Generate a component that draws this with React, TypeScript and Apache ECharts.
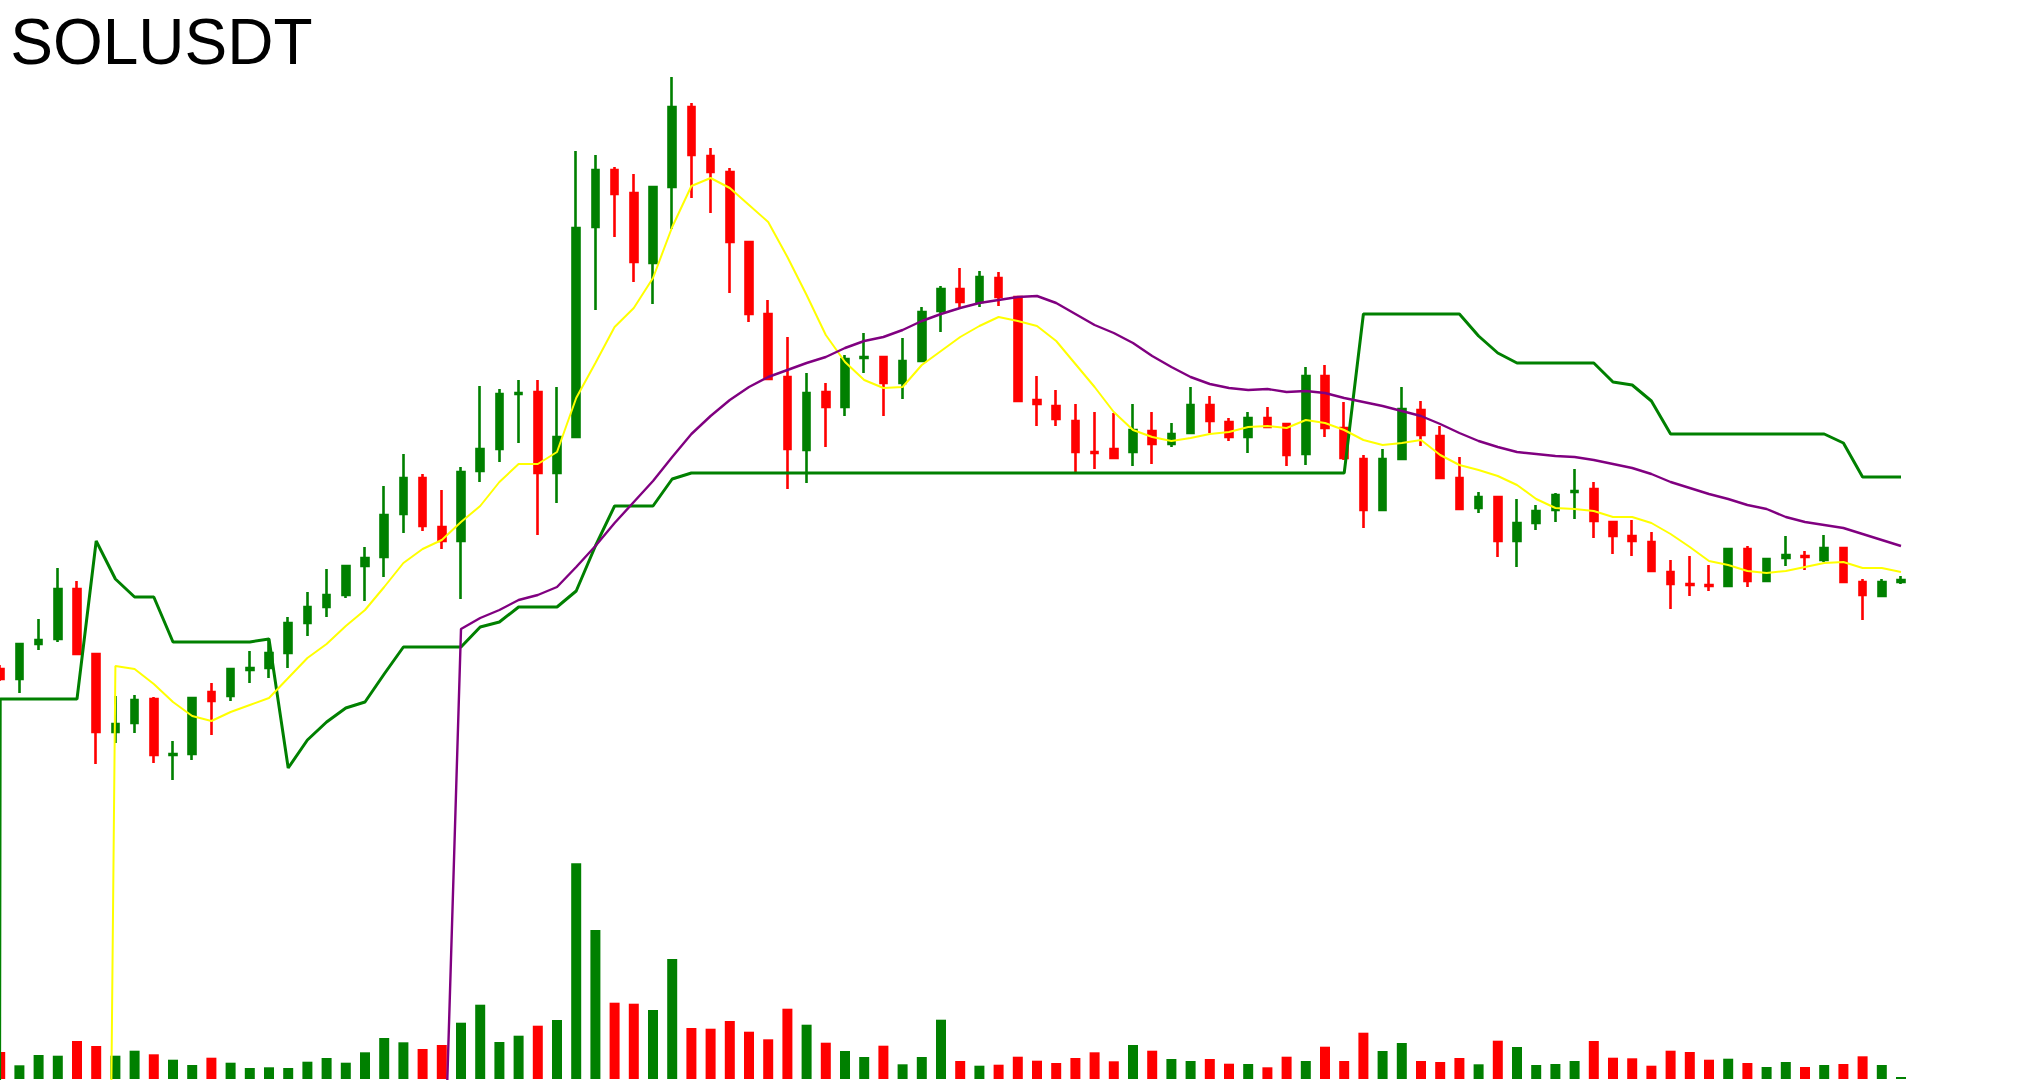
import React, { useEffect, useRef } from "react";
import * as echarts from "echarts";

// [open, close, low, high]
const CANDLES: number[][] = [
  [19.84, 19.74, 19.72, 19.88],
  [19.74, 20.09, 19.60, 20.09],
  [20.09, 20.13, 20.03, 20.34],
  [20.14, 20.64, 20.11, 20.85],
  [20.64, 19.99, 19.99, 20.72],
  [19.99, 19.21, 18.89, 19.99],
  [19.21, 19.29, 19.10, 19.57],
  [19.30, 19.53, 19.20, 19.58],
  [19.54, 18.98, 18.90, 19.56],
  [18.98, 18.99, 18.73, 19.12],
  [18.99, 19.55, 18.93, 19.56],
  [19.61, 19.52, 19.18, 19.70],
  [19.57, 19.84, 19.52, 19.84],
  [19.83, 19.85, 19.70, 20.02],
  [19.85, 20.00, 19.75, 20.15],
  [20.00, 20.30, 19.85, 20.36],
  [20.30, 20.46, 20.17, 20.61],
  [20.46, 20.58, 20.36, 20.84],
  [20.58, 20.87, 20.55, 20.87],
  [20.87, 20.95, 20.52, 21.06],
  [20.96, 21.38, 20.76, 21.67],
  [21.39, 21.75, 21.20, 21.99],
  [21.75, 21.27, 21.22, 21.79],
  [21.26, 21.12, 21.04, 21.63],
  [21.12, 21.81, 20.54, 21.86],
  [21.82, 22.04, 21.71, 22.67],
  [22.04, 22.59, 21.91, 22.64],
  [22.59, 22.60, 22.10, 22.73],
  [22.61, 21.80, 21.18, 22.73],
  [21.80, 22.16, 21.50, 22.66],
  [22.16, 24.25, 22.16, 25.02],
  [24.26, 24.83, 23.43, 24.98],
  [24.83, 24.59, 24.16, 24.86],
  [24.60, 23.91, 23.71, 24.79],
  [23.90, 24.66, 23.49, 24.66],
  [24.66, 25.46, 24.24, 25.76],
  [25.46, 24.98, 24.55, 25.50],
  [24.97, 24.81, 24.40, 25.05],
  [24.81, 24.11, 23.60, 24.85],
  [24.11, 23.39, 23.31, 24.11],
  [23.39, 22.74, 22.74, 23.53],
  [22.76, 22.04, 21.64, 23.16],
  [22.03, 22.60, 21.70, 22.80],
  [22.61, 22.46, 22.06, 22.70],
  [22.46, 22.94, 22.37, 22.98],
  [22.95, 22.96, 22.80, 23.20],
  [22.96, 22.70, 22.37, 22.96],
  [22.70, 22.92, 22.54, 23.15],
  [22.92, 23.41, 22.91, 23.46],
  [23.42, 23.64, 23.21, 23.67],
  [23.64, 23.51, 23.44, 23.85],
  [23.51, 23.76, 23.46, 23.82],
  [23.75, 23.56, 23.47, 23.81],
  [23.56, 22.52, 22.52, 23.56],
  [22.53, 22.49, 22.27, 22.77],
  [22.47, 22.34, 22.27, 22.63],
  [22.32, 22.01, 21.79, 22.49],
  [22.01, 22.00, 21.84, 22.41],
  [22.04, 21.95, 21.95, 22.40],
  [22.01, 22.23, 21.87, 22.49],
  [22.22, 22.09, 21.89, 22.41],
  [22.09, 22.19, 22.06, 22.30],
  [22.20, 22.48, 22.19, 22.66],
  [22.48, 22.32, 22.20, 22.57],
  [22.31, 22.16, 22.12, 22.35],
  [22.16, 22.35, 22.00, 22.41],
  [22.35, 22.26, 22.25, 22.46],
  [22.29, 21.98, 21.87, 22.30],
  [21.99, 22.77, 21.88, 22.86],
  [22.77, 22.25, 22.16, 22.88],
  [22.25, 21.95, 21.93, 22.51],
  [21.94, 21.43, 21.25, 21.98],
  [21.43, 21.94, 21.43, 22.04],
  [21.94, 22.44, 21.94, 22.66],
  [22.43, 22.18, 22.07, 22.52],
  [22.17, 21.75, 21.75, 22.27],
  [21.75, 21.44, 21.43, 21.96],
  [21.45, 21.56, 21.40, 21.61],
  [21.56, 21.12, 20.96, 21.56],
  [21.12, 21.30, 20.86, 21.54],
  [21.30, 21.42, 21.23, 21.48],
  [21.43, 21.58, 21.31, 21.60],
  [21.61, 21.62, 21.34, 21.84],
  [21.64, 21.32, 21.15, 21.71],
  [21.31, 21.17, 20.99, 21.31],
  [21.17, 21.12, 20.97, 21.33],
  [21.11, 20.82, 20.82, 21.21],
  [20.81, 20.69, 20.44, 20.93],
  [20.69, 20.68, 20.57, 20.97],
  [20.68, 20.67, 20.62, 20.88],
  [20.67, 21.04, 20.66, 21.05],
  [21.04, 20.72, 20.66, 21.07],
  [20.72, 20.94, 20.71, 20.94],
  [20.95, 20.98, 20.87, 21.17],
  [20.97, 20.96, 20.83, 21.02],
  [20.93, 21.05, 20.91, 21.18],
  [21.05, 20.71, 20.70, 21.05],
  [20.71, 20.58, 20.33, 20.74],
  [20.57, 20.71, 20.56, 20.74],
  [20.71, 20.73, 20.69, 20.77],
];

const VOLUME: number[] = [
  27, 13.7, 24, 23.3, 38, 33, 23.3, 28.3, 24.7, 19.3,
  14, 21.3, 16.3, 11, 11.7, 11, 17.3, 21, 16.3, 26.7,
  41, 36.7, 30, 34, 56.3, 74.3, 37, 43.3, 53.3, 59,
  215.7, 149, 76.3, 75.3, 69, 120, 51, 50.3, 58, 47.3,
  39.7, 70.3, 54.3, 36.3, 28, 22, 33.3, 14.7, 22, 59.3,
  18, 13.3, 14.3, 22.3, 18.3, 16, 21, 26.7, 17.7, 34,
  28.3, 20, 18, 20, 15.3, 15, 11.7, 22.3, 18, 32.3,
  18, 46.3, 28, 36, 18, 17, 21, 14.7, 38.3, 32,
  14, 15, 18, 38, 21.3, 20.7, 13.3, 28.3, 27, 19.3,
  20.3, 16, 12, 17, 12, 14, 15, 22.7, 14, 2,
];

// green trailing line: value before the first candle (far below the chart), then one value per candle
const GREEN_LEAD = -100;
const GREEN_LINE: number[] = [
  19.54, 19.54, 19.54, 19.54, 19.54, 21.12, 20.74, 20.56, 20.56, 20.11,
  20.11, 20.11, 20.11, 20.11, 20.14, 18.85, 19.13, 19.31, 19.45, 19.51,
  19.79, 20.06, 20.06, 20.06, 20.06, 20.26, 20.31, 20.46, 20.46, 20.46,
  20.62, 21.07, 21.47, 21.47, 21.47, 21.74, 21.80, 21.80, 21.80, 21.80,
  21.80, 21.80, 21.80, 21.80, 21.80, 21.80, 21.80, 21.80, 21.80, 21.80,
  21.80, 21.80, 21.80, 21.80, 21.80, 21.80, 21.80, 21.80, 21.80, 21.80,
  21.80, 21.80, 21.80, 21.80, 21.80, 21.80, 21.80, 21.80, 21.80, 21.80,
  21.80, 23.39, 23.39, 23.39, 23.39, 23.39, 23.39, 23.17, 23.00, 22.90,
  22.90, 22.90, 22.90, 22.90, 22.71, 22.68, 22.52, 22.19, 22.19, 22.19,
  22.19, 22.19, 22.19, 22.19, 22.19, 22.19, 22.10, 21.76, 21.76, 21.76,
];

// yellow average: starts at candle 5
const YELLOW_START = 5;
const YELLOW_LINE: number[] = [
  0, 19.87, 19.84, 19.69, 19.51, 19.37, 19.32, 19.41, 19.48, 19.55,
  19.75, 19.95, 20.09, 20.27, 20.43, 20.66, 20.90, 21.04, 21.13, 21.31,
  21.47, 21.71, 21.89, 21.89, 22.01, 22.55, 22.90, 23.26, 23.45, 23.75,
  24.26, 24.67, 24.75, 24.65, 24.48, 24.31, 23.96, 23.58, 23.18, 22.91,
  22.73, 22.65, 22.66, 22.88, 23.02, 23.16, 23.27, 23.36, 23.32, 23.27,
  23.12, 22.89, 22.66, 22.41, 22.23, 22.16, 22.12, 22.15, 22.19, 22.21,
  22.26, 22.27, 22.25, 22.33, 22.30, 22.23, 22.13, 22.08, 22.10, 22.13,
  21.98, 21.88, 21.83, 21.77, 21.68, 21.54, 21.45, 21.44, 21.42, 21.36,
  21.36, 21.30, 21.19, 21.06, 20.92, 20.88, 20.82, 20.80, 20.82, 20.86,
  20.90, 20.91, 20.85, 20.85, 20.81,
];

// purple average: starts at candle 23
const PURPLE_START = 23;
const PURPLE_LINE: number[] = [
  13.91, 20.24, 20.35, 20.43, 20.53, 20.58, 20.66, 20.86, 21.07, 21.30,
  21.51, 21.72, 21.96, 22.19, 22.37, 22.53, 22.66, 22.76, 22.83, 22.90,
  22.96, 23.05, 23.12, 23.16, 23.23, 23.32, 23.39, 23.45, 23.50, 23.53,
  23.56, 23.57, 23.50, 23.39, 23.28, 23.20, 23.10, 22.97, 22.86, 22.76,
  22.69, 22.65, 22.63, 22.64, 22.61, 22.62, 22.60, 22.55, 22.51, 22.47,
  22.42, 22.37, 22.29, 22.20, 22.12, 22.06, 22.01, 21.99, 21.97, 21.96,
  21.93, 21.89, 21.85, 21.79, 21.71, 21.65, 21.59, 21.54, 21.48, 21.44,
  21.36, 21.31, 21.28, 21.25, 21.19, 21.13, 21.07,
];

const TITLE = "SOLUSDT";
const UP = "#008000";
const DOWN = "#ff0000";
const N_CATS = 107; // one slot before the first candle, 100 candles, empty slots after
const SPACING = 19.2;

export default function App() {
  const ref = useRef<HTMLDivElement>(null);

  useEffect(() => {
    if (!ref.current) return;
    const chart = echarts.init(ref.current, undefined, { renderer: "svg" });

    const cats: string[] = [];
    for (let k = 0; k < N_CATS; k++) cats.push(String(k - 1));

    const pad = (arr: any[], start: number) => {
      const out: any[] = [];
      for (let k = 0; k < N_CATS; k++) {
        const idx = k - start;
        out.push(idx >= 0 && idx < arr.length ? arr[idx] : "-");
      }
      return out;
    };

    const candleData = pad(CANDLES, 1);
    const greenData = pad([GREEN_LEAD, ...GREEN_LINE], 0);
    const yellowData = pad(YELLOW_LINE, YELLOW_START + 1);
    const purpleData = pad(PURPLE_LINE, PURPLE_START + 1);
    const volItems = VOLUME.map((v, i) => ({
      value: v,
      itemStyle: { color: CANDLES[i][1] >= CANDLES[i][0] ? UP : DOWN },
    }));
    const volData = pad(volItems, 1);

    const gridW = SPACING * (N_CATS - 1);
    const hiddenX = {
      type: "category" as const,
      data: cats,
      boundaryGap: false,
      show: false,
      axisLine: { show: false },
      axisTick: { show: false },
      axisLabel: { show: false },
      splitLine: { show: false },
    };

    chart.setOption({
      animation: false,
      backgroundColor: "#ffffff",
      title: {
        text: TITLE,
        left: 10 + SPACING,
        top: 10,
        padding: 0,
        textStyle: {
          fontSize: 64,
          fontWeight: "normal",
          fontFamily: "Liberation Sans, Arial, sans-serif",
          color: "#000000",
        },
      },
      grid: [
        { left: 0, top: 0, width: gridW, height: 1080, outerBoundsMode: "none" },
        { left: 0, top: 859, width: gridW, height: 220, outerBoundsMode: "none" },
      ],
      xAxis: [
        { ...hiddenX, gridIndex: 0 },
        { ...hiddenX, gridIndex: 1 },
      ],
      yAxis: [
        { type: "value", gridIndex: 0, min: 15.73, max: 26.53, show: false, splitLine: { show: false } },
        { type: "value", gridIndex: 1, min: 0, max: 220, show: false, splitLine: { show: false } },
      ],
      series: [
        {
          type: "bar",
          xAxisIndex: 1,
          yAxisIndex: 1,
          data: volData,
          barWidth: 10,
          z: 1,
        },
        {
          type: "candlestick",
          xAxisIndex: 0,
          yAxisIndex: 0,
          data: candleData,
          barWidth: 7,
          z: 2,
          itemStyle: {
            color: UP,
            color0: DOWN,
            borderColor: UP,
            borderColor0: DOWN,
            borderWidth: 2.6,
          },
        },
        {
          type: "line",
          xAxisIndex: 0,
          yAxisIndex: 0,
          data: greenData,
          showSymbol: false,
          symbol: "none",
          z: 3,
          lineStyle: { color: UP, width: 3 },
        },
        {
          type: "line",
          xAxisIndex: 0,
          yAxisIndex: 0,
          data: yellowData,
          showSymbol: false,
          symbol: "none",
          z: 4,
          lineStyle: { color: "#ffff00", width: 2 },
        },
        {
          type: "line",
          xAxisIndex: 0,
          yAxisIndex: 0,
          data: purpleData,
          showSymbol: false,
          symbol: "none",
          z: 4,
          lineStyle: { color: "#800080", width: 2.4 },
        },
      ],
    });

    return () => chart.dispose();
  }, []);

  return (
    <div
      ref={ref}
      style={{
        position: "absolute",
        left: -SPACING,
        top: 0,
        width: 2020 + SPACING,
        height: 1080,
      }}
    />
  );
}
